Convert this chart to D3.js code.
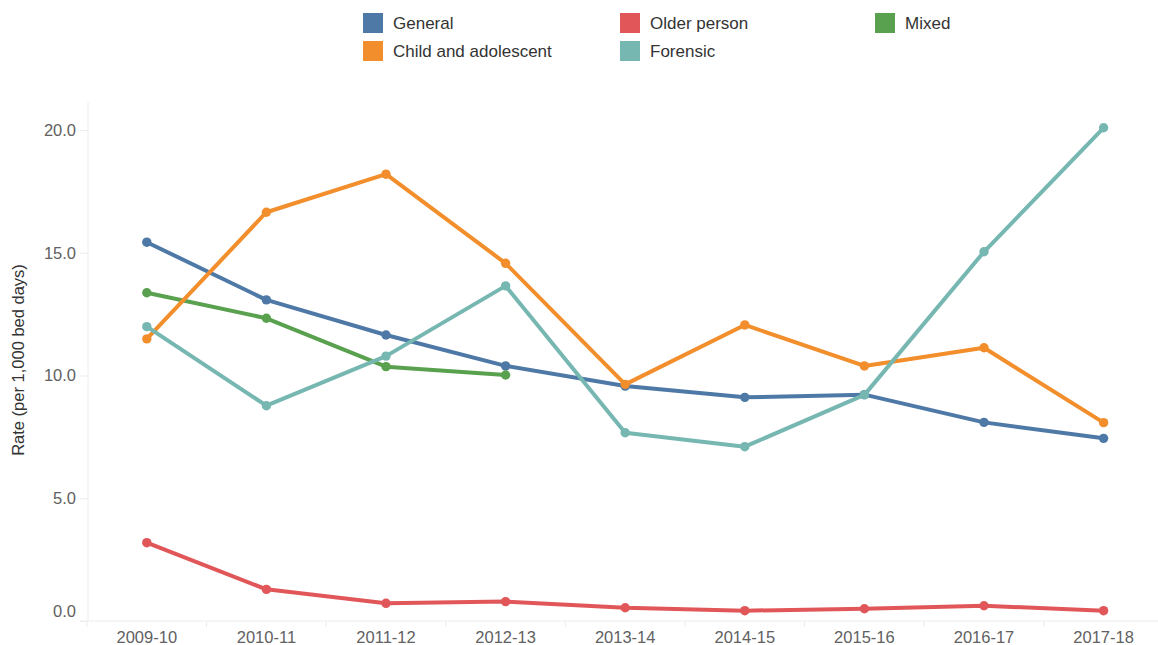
<!DOCTYPE html>
<html>
<head>
<meta charset="utf-8">
<script src="https://cdn.jsdelivr.net/npm/d3@7"></script>
<style>
  body { margin: 0; background: #fff; }
  svg { display: block; font-family: "Liberation Sans", Arial, sans-serif; }
</style>
</head>
<body>
<svg id="chart"></svg>
<script>
var years = ["2009-10", "2010-11", "2011-12", "2012-13", "2013-14", "2014-15", "2015-16", "2016-17", "2017-18"];
var yTicks = [0, 5, 10, 15, 20];

var general = [15.43, 13.08, 11.65, 10.39, 9.57, 9.11, 9.22, 8.09, 7.44];
var olderPerson = [3.19, 1.29, 0.72, 0.79, 0.54, 0.42, 0.50, 0.62, 0.42];
var mixed = [13.37, 12.33, 10.36, 10.02];
var childAdolescent = [11.49, 16.65, 18.20, 14.57, 9.64, 12.06, 10.39, 11.13, 8.08];
var forensic = [11.99, 8.77, 10.79, 13.65, 7.67, 7.10, 9.21, 15.04, 20.09];

var seriesNames = ["General", "Older person", "Mixed", "Child and adolescent", "Forensic"];
var seriesValues = [general, olderPerson, mixed, childAdolescent, forensic];
var colors = ["#4e79a7", "#e15759", "#59a14f", "#f28e2b", "#76b7b2"];

var width = 1158;
var height = 645;

var svg = d3.select("#chart")
    .attr("width", width)
    .attr("height", height);

var xScale = d3.scaleBand()
    .domain(years)
    .range([87, 87 + 119.6 * years.length]);

var yScale = d3.scaleLinear()
    .domain([0, 20])
    .range([621, 130]);

// left axis line and bottom axis line
svg.append("line")
    .attr("x1", 88).attr("x2", 88)
    .attr("y1", 102).attr("y2", 621)
    .attr("stroke", "#ececec");

svg.append("line")
    .attr("x1", 80).attr("x2", width)
    .attr("y1", 621).attr("y2", 621)
    .attr("stroke", "#ececec");

// y axis
var yAxis = svg.append("g")
    .attr("transform", "translate(88,0)")
    .call(d3.axisLeft(yScale).tickValues(yTicks).tickSize(8).tickPadding(4).tickFormat(d3.format(".1f")));
yAxis.select(".domain").remove();
yAxis.selectAll(".tick line").attr("stroke", "#ececec");
yAxis.selectAll(".tick text")
    .attr("fill", "#616161")
    .style("font-size", "16.5px")
    .style("font-family", "Liberation Sans, Arial, sans-serif")
    .attr("dy", function (d) { return d === 0 ? "-0.25em" : "0.32em"; });

// x axis
var xAxis = svg.append("g")
    .attr("transform", "translate(0,621)")
    .call(d3.axisBottom(xScale).tickSize(0).tickPadding(10));
xAxis.select(".domain").remove();
xAxis.selectAll(".tick text")
    .attr("fill", "#616161")
    .style("font-size", "16.5px")
    .style("font-family", "Liberation Sans, Arial, sans-serif");

// band boundary ticks
svg.append("g").selectAll("line")
    .data(years)
    .enter()
    .append("line")
    .attr("x1", function (d) { return xScale(d); })
    .attr("x2", function (d) { return xScale(d); })
    .attr("y1", 621).attr("y2", 627)
    .attr("stroke", "#ececec");

// axis title
svg.append("text")
    .attr("transform", "translate(24,360) rotate(-90)")
    .attr("text-anchor", "middle")
    .attr("fill", "#333")
    .style("font-size", "16.5px")
    .text("Rate (per 1,000 bed days)");

var line = d3.line()
    .x(function (d, i) { return xScale(years[i]) + xScale.bandwidth() / 2; })
    .y(function (d) { return yScale(d); });

seriesValues.forEach(function (vals, s) {
    var g = svg.append("g");
    g.append("path")
        .datum(vals)
        .attr("d", line)
        .attr("fill", "none")
        .attr("stroke", colors[s])
        .attr("stroke-width", 4)
        .attr("stroke-linejoin", "round");
    g.selectAll("circle")
        .data(vals)
        .enter()
        .append("circle")
        .attr("cx", function (d, i) { return xScale(years[i]) + xScale.bandwidth() / 2; })
        .attr("cy", function (d) { return yScale(d); })
        .attr("r", 4.7)
        .attr("fill", colors[s]);
});

// legend
var legendX = [363, 620, 875];
var legend = svg.append("g").selectAll("g")
    .data(seriesNames)
    .enter()
    .append("g")
    .attr("transform", function (d, i) {
        return "translate(" + legendX[i % 3] + "," + (13 + Math.floor(i / 3) * 28) + ")";
    });

legend.append("rect")
    .attr("width", 20)
    .attr("height", 20)
    .attr("fill", function (d, i) { return colors[i]; });

legend.append("text")
    .attr("x", 30)
    .attr("y", 16)
    .attr("fill", "#333")
    .style("font-size", "17px")
    .text(function (d) { return d; });
</script>
</body>
</html>
